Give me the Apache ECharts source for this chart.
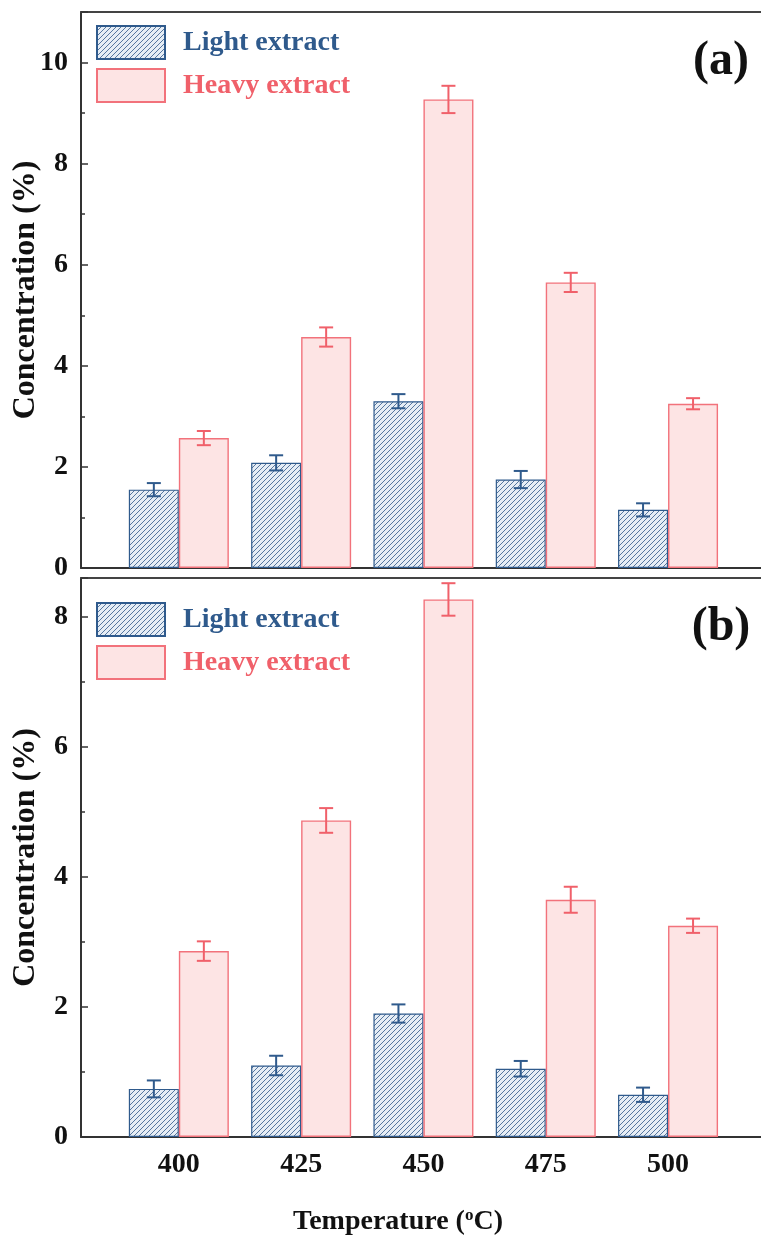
<!DOCTYPE html>
<html>
<head>
<meta charset="utf-8">
<script src="https://cdn.jsdelivr.net/npm/echarts@6/dist/echarts.min.js"></script>
<style>
html,body{margin:0;padding:0;background:#fff;}
#chart{width:761px;height:1244px;}
</style>
</head>
<body>
<div id="chart"></div>
<script>
// ---- data ----
const temperatures = [400, 425, 450, 475, 500];
const lightA = [1.55, 2.08, 3.30, 1.75, 1.15];
const lightAErr = [0.13, 0.15, 0.14, 0.17, 0.13];
const heavyA = [2.57, 4.57, 9.27, 5.65, 3.25];
const heavyAErr = [0.14, 0.19, 0.27, 0.19, 0.11];
const lightB = [0.74, 1.10, 1.90, 1.05, 0.65];
const lightBErr = [0.13, 0.15, 0.14, 0.12, 0.11];
const heavyB = [2.86, 4.87, 8.27, 3.65, 3.25];
const heavyBErr = [0.15, 0.19, 0.25, 0.20, 0.11];
const yTicksA = [0, 2, 4, 6, 8, 10];
const yTicksB = [0, 2, 4, 6, 8];

const FONT = '"Liberation Serif", "Times New Roman", serif';
const LIGHT_LINE = '#2f5a8c';
const LIGHT_TEXT = '#2f5a8c';
const HEAVY_LINE = '#f2727b';
const HEAVY_TEXT = '#f0606a';
const HEAVY_FILL = '#fde4e4';
const BAR_W = 50;
const X_MIN = 380, X_MAX = 519;

// hatch pattern for light extract
function makeHatch() {
  const s = 5;
  const c = document.createElement('canvas');
  c.width = s; c.height = s;
  const g = c.getContext('2d');
  g.fillStyle = '#e6edf5';
  g.fillRect(0, 0, s, s);
  g.strokeStyle = '#55769f';
  g.lineWidth = 1;
  g.beginPath();
  g.moveTo(0, s); g.lineTo(s, 0);
  g.moveTo(-1, 1); g.lineTo(1, -1);
  g.moveTo(s - 1, s + 1); g.lineTo(s + 1, s - 1);
  g.stroke();
  return c;
}
const hatch = makeHatch();

const pairs = (vals) => temperatures.map((t, i) => [t, vals[i]]);
const errPairs = (vals, errs) => temperatures.map((t, i) => [t, vals[i], errs[i]]);

function errorSeries(name, gridIdx, vals, errs, color, side) {
  return {
    type: 'custom',
    name: name + ' error',
    xAxisIndex: gridIdx, yAxisIndex: gridIdx,
    data: errPairs(vals, errs),
    z: 5,
    silent: true,
    renderItem: function (params, api) {
      const x = api.value(0), y = api.value(1), e = api.value(2);
      const top = api.coord([x, y + e]);
      const bot = api.coord([x, y - e]);
      const cx = top[0] + side * BAR_W / 2;
      const cap = 7;
      const st = { stroke: color, lineWidth: 2 };
      return {
        type: 'group',
        children: [
          { type: 'line', shape: { x1: cx, y1: top[1], x2: cx, y2: bot[1] }, style: st },
          { type: 'line', shape: { x1: cx - cap, y1: top[1], x2: cx + cap, y2: top[1] }, style: st },
          { type: 'line', shape: { x1: cx - cap, y1: bot[1], x2: cx + cap, y2: bot[1] }, style: st }
        ]
      };
    }
  };
}

function barSeries(name, gridIdx, vals, light) {
  return {
    type: 'bar',
    name: name,
    xAxisIndex: gridIdx, yAxisIndex: gridIdx,
    data: pairs(vals),
    barWidth: BAR_W,
    barGap: '0%',
    itemStyle: light
      ? { color: { image: hatch, repeat: 'repeat' }, borderColor: LIGHT_LINE, borderWidth: 1.2 }
      : { color: HEAVY_FILL, borderColor: HEAVY_LINE, borderWidth: 1.4 },
    emphasis: { disabled: true },
    z: 2
  };
}

function yAxis(gridIdx, max) {
  return {
    type: 'value', gridIndex: gridIdx, min: 0, max: max, interval: 2,
    name: 'Concentration (%)', nameLocation: 'middle', nameGap: 39,
    nameMoveOverlap: false,
    nameTextStyle: { fontFamily: FONT, fontWeight: 'bold', fontSize: 32, color: '#111' },
    axisLine: { show: true, lineStyle: { color: '#333', width: 2 } },
    axisTick: { show: true, inside: true, length: 7, lineStyle: { color: '#333', width: 1.5 } },
    minorTick: { show: true, splitNumber: 2, length: 4, lineStyle: { color: '#333', width: 1.5 } },
    axisLabel: {
      fontFamily: FONT, fontWeight: 'bold', fontSize: 28, color: '#111', margin: 13,
      showMaxLabel: false
    },
    splitLine: { show: false }
  };
}

function xAxis(gridIdx, showLabels) {
  return {
    type: 'value', gridIndex: gridIdx, min: X_MIN, max: X_MAX,
    axisLine: { show: true, onZero: false, lineStyle: { color: '#333', width: 2 } },
    axisTick: { show: false },
    splitLine: { show: false },
    axisLabel: {
      show: showLabels,
      fontFamily: FONT, fontWeight: 'bold', fontSize: 28, color: '#111', margin: 14,
      customValues: temperatures
    },
    name: showLabels ? '{t|Temperature (}{s|o}{t|C)}' : '',
    nameLocation: 'middle', nameGap: 70,
    nameMoveOverlap: false,
    nameTextStyle: {
      padding: [0, 46, 0, 0],
      rich: {
        t: { fontFamily: FONT, fontWeight: 'bold', fontSize: 28, color: '#111' },
        s: { fontFamily: FONT, fontWeight: 'bold', fontSize: 17, color: '#111', verticalAlign: 'top', padding: [0, 0, 12, 0] }
      }
    }
  };
}

function topAxis(gridIdx) {
  return {
    type: 'value', gridIndex: gridIdx, min: X_MIN, max: X_MAX, position: 'top',
    axisLine: { show: true, onZero: false, lineStyle: { color: '#444', width: 2 } },
    axisTick: { show: false }, axisLabel: { show: false }, splitLine: { show: false }
  };
}

function legend(top) {
  return {
    orient: 'vertical', left: 96, top: top, padding: 0,
    itemWidth: 68, itemHeight: 33, itemGap: 8,
    icon: 'rect',
    selectedMode: false,
    data: [
      { name: 'Light extract', textStyle: { color: LIGHT_TEXT } },
      { name: 'Heavy extract', textStyle: { color: HEAVY_TEXT } }
    ],
    textStyle: { fontFamily: FONT, fontWeight: 'bold', fontSize: 28, padding: [0, 0, 0, 13] }
  };
}

const option = {
  animation: false,
  backgroundColor: '#fff',
  grid: [
    { left: 81, right: 0, top: 12, bottom: 676, containLabel: false, outerBoundsMode: 'none' },
    { left: 81, right: 0, top: 578, bottom: 107, containLabel: false, outerBoundsMode: 'none' }
  ],
  xAxis: [xAxis(0, false), xAxis(1, true), topAxis(0), topAxis(1)],
  yAxis: [yAxis(0, 11), yAxis(1, 8.6)],
  legend: [legend(25), legend(602)],
  graphic: [
    { type: 'text', x: 721, y: 62, style: { text: '(a)', fontFamily: FONT, fontWeight: 'bold', fontSize: 48, fill: '#111', textAlign: 'center', textVerticalAlign: 'middle' } },
    { type: 'text', x: 721, y: 628, style: { text: '(b)', fontFamily: FONT, fontWeight: 'bold', fontSize: 48, fill: '#111', textAlign: 'center', textVerticalAlign: 'middle' } }
  ],
  series: [
    barSeries('Light extract', 0, lightA, true),
    barSeries('Heavy extract', 0, heavyA, false),
    errorSeries('Light extract', 0, lightA, lightAErr, LIGHT_LINE, -1),
    errorSeries('Heavy extract', 0, heavyA, heavyAErr, HEAVY_TEXT, 1),
    barSeries('Light extract', 1, lightB, true),
    barSeries('Heavy extract', 1, heavyB, false),
    errorSeries('Light extract', 1, lightB, lightBErr, LIGHT_LINE, -1),
    errorSeries('Heavy extract', 1, heavyB, heavyBErr, HEAVY_TEXT, 1)
  ]
};

const chart = echarts.init(document.getElementById('chart'), null, { renderer: 'canvas' });
chart.setOption(option);
</script>
</body>
</html>
